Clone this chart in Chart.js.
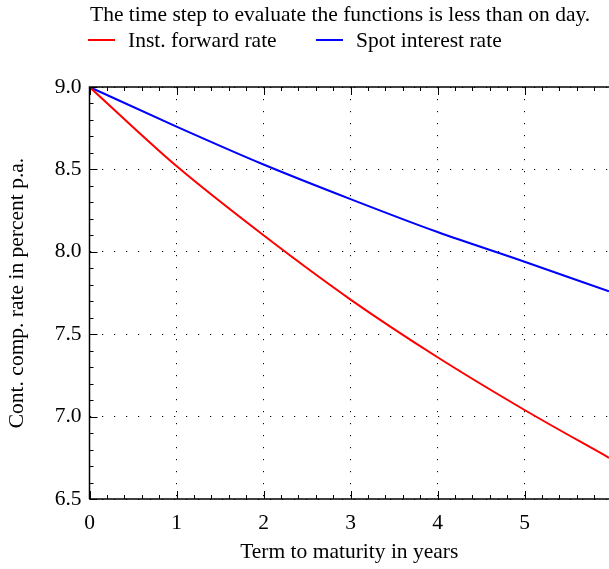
<!DOCTYPE html>
<html>
<head>
<meta charset="utf-8">
<script src="https://cdn.jsdelivr.net/npm/chart.js@4.4.1/dist/chart.umd.min.js"></script>
<style>
    html, body { margin: 0; padding: 0; background: #fff; overflow: hidden; }
    #wrap { width: 609px; height: 569px; position: relative; }
</style>
</head>
<body>
<div id="wrap"><canvas id="rates"></canvas></div>
<script>
// values
const years = [0, 1, 2, 3, 4, 5, 5.97];
const forwardRate = [9.0, 8.52, 8.10, 7.71, 7.36, 7.04, 6.75];
const spotRate = [9.0, 8.76, 8.53, 8.32, 8.12, 7.94, 7.76];
const xTicks = [0, 1, 2, 3, 4, 5];
const yTicks = [6.5, 7.0, 7.5, 8.0, 8.5, 9.0];

const serif = '"Liberation Serif", "DejaVu Serif", serif';
const fontSize = 21.5;

function points(xs, ys) {
    return xs.map((x, i) => ({ x: x, y: ys[i] }));
}

// title, legend, frame and inward ticks in the gnuplot style
const framePlugin = {
    id: 'frame',
    afterDraw(chart) {
        const { ctx, chartArea: a, scales: { x, y } } = chart;
        ctx.save();
        ctx.fillStyle = '#000';
        ctx.font = fontSize + 'px ' + serif;
        ctx.textBaseline = 'middle';
        ctx.textAlign = 'left';
        ctx.fillText('The time step to evaluate the functions is less than on day.', 90, 15);

        const legend = [['Inst. forward rate', '#ff0000', 88], ['Spot interest rate', '#0000ff', 316]];
        legend.forEach(([label, color, lx]) => {
            ctx.strokeStyle = color;
            ctx.lineWidth = 2;
            ctx.beginPath();
            ctx.moveTo(lx, 40);
            ctx.lineTo(lx + 27, 40);
            ctx.stroke();
            ctx.fillText(label, lx + 40, 41);
        });

        ctx.strokeStyle = '#000';
        ctx.lineWidth = 1.5;
        ctx.beginPath();
        ctx.moveTo(a.left, a.bottom);
        ctx.lineTo(a.left, a.top);
        ctx.lineTo(a.right + 2, a.top);
        ctx.moveTo(a.left, a.bottom);
        ctx.lineTo(a.right + 2, a.bottom);
        ctx.stroke();

        ctx.lineWidth = 1;
        ctx.beginPath();
        for (let v = 0; v <= 5.97; v += 0.2) {
            const px = Math.round(x.getPixelForValue(v)) + 0.5;
            const major = Math.abs(v - Math.round(v)) < 1e-6;
            const len = major ? 8 : 4;
            ctx.moveTo(px, a.bottom); ctx.lineTo(px, a.bottom - len);
            ctx.moveTo(px, a.top); ctx.lineTo(px, a.top + len);
        }
        for (let v = 6.5; v <= 9.0001; v += 0.1) {
            const py = Math.round(y.getPixelForValue(v)) + 0.5;
            const major = Math.abs(v * 2 - Math.round(v * 2)) < 1e-6;
            const len = major ? 8 : 4;
            ctx.moveTo(a.left, py); ctx.lineTo(a.left + len, py);
        }
        ctx.stroke();
        ctx.restore();
    }
};

new Chart(document.getElementById('rates'), {
    type: 'line',
    data: {
        datasets: [{
            label: 'Inst. forward rate',
            data: points(years, forwardRate),
            borderColor: '#ff0000',
            borderWidth: 2,
            pointRadius: 0,
            cubicInterpolationMode: 'monotone'
        }, {
            label: 'Spot interest rate',
            data: points(years, spotRate),
            borderColor: '#0000ff',
            borderWidth: 2,
            pointRadius: 0,
            cubicInterpolationMode: 'monotone'
        }]
    },
    plugins: [framePlugin],
    options: {
        responsive: true,
        maintainAspectRatio: false,
        animation: false,
        layout: { padding: { top: 87, right: 0, left: 0, bottom: 0 } },
        plugins: { legend: { display: false }, tooltip: { enabled: false } },
        scales: {
            x: {
                type: 'linear',
                min: 0,
                max: 5.97,
                afterBuildTicks: s => { s.ticks = xTicks.map(v => ({ value: v })); },
                afterFit: s => { s.height = 70; },
                grid: { color: '#000', lineWidth: 1, drawTicks: false },
                border: { display: false, dash: [1.2, 10.8] },
                ticks: { color: '#000', font: { family: serif, size: fontSize }, padding: 11, maxRotation: 0 },
                title: { display: true, text: 'Term to maturity in years', color: '#000', font: { family: serif, size: fontSize }, padding: { top: 2 } }
            },
            y: {
                min: 6.5,
                max: 9.0,
                afterBuildTicks: s => { s.ticks = yTicks.map(v => ({ value: v })); },
                afterFit: s => { s.width = 89.5; },
                grid: { color: '#000', lineWidth: 1, drawTicks: false },
                border: { display: false, dash: [1.2, 10.8] },
                ticks: { color: '#000', font: { family: serif, size: fontSize }, padding: 8, callback: v => v.toFixed(1) },
                title: { display: true, text: 'Cont. comp. rate in percent p.a.', color: '#000', font: { family: serif, size: fontSize }, padding: { bottom: 2 } }
            }
        }
    }
});
</script>
</body>
</html>
